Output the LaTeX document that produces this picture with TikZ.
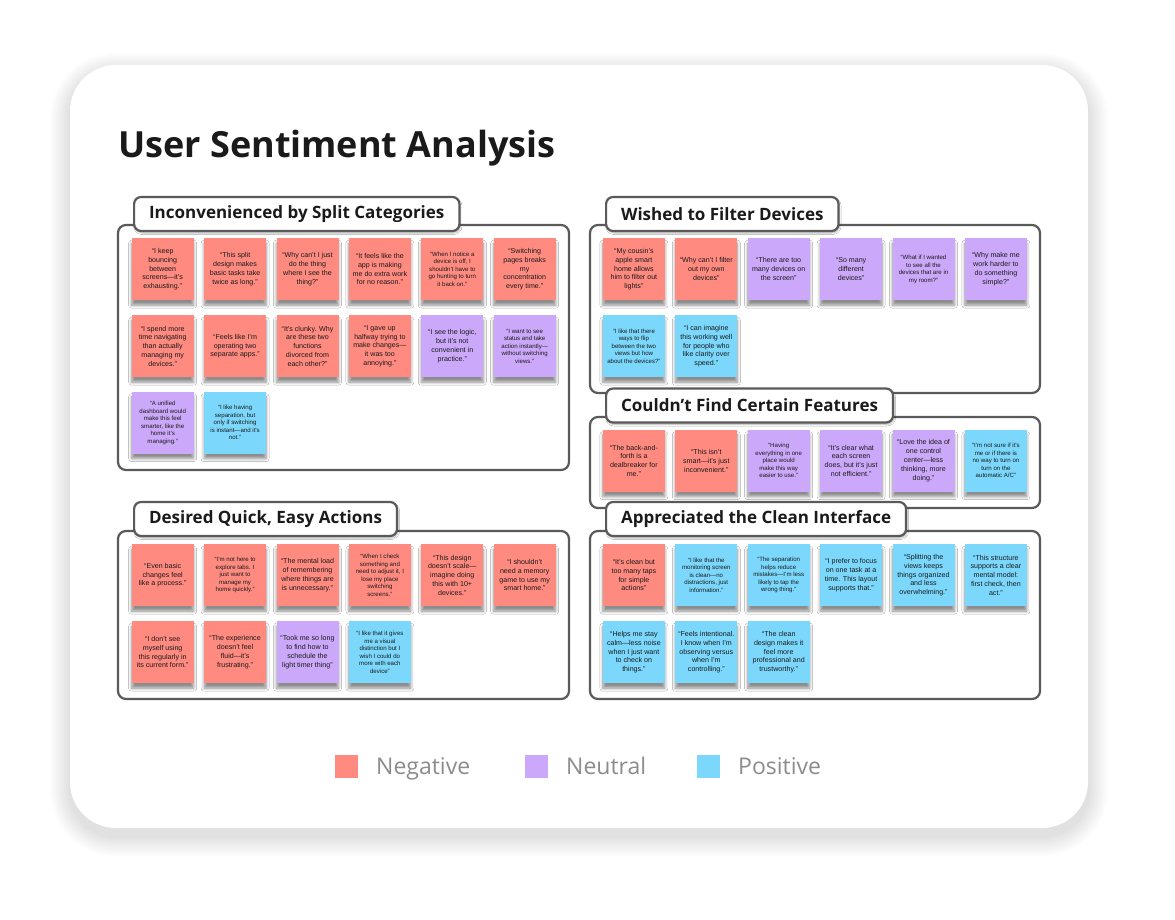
\documentclass[tikz,border=0pt]{standalone}
\usepackage{fontspec}
\setmainfont{Liberation Sans}
\newfontfamily\titlefont{Open Sans}
\newfontfamily\legendfont{Open Sans}
\usetikzlibrary{shadows.blur}
\definecolor{negc}{HTML}{FF8A80}
\definecolor{neuc}{HTML}{CBA8F9}
\definecolor{posc}{HTML}{7BD8FC}
\definecolor{framec}{HTML}{5A5A5A}
\definecolor{inkc}{HTML}{1A1A1A}
\definecolor{legc}{HTML}{8C8C8C}
\tikzset{
  notebox/.style={anchor=north west, minimum width=62pt, minimum height=62pt, inner sep=1pt,
    align=center, text=inkc, font=\fontsize{7.1}{8.8}\selectfont,
    blur shadow={shadow xshift=0pt, shadow yshift=-5pt, shadow opacity=45, shadow blur radius=3pt, shadow blur steps=6}},
  smalltxt/.style={font=\fontsize{6.1}{7.5}\selectfont},
  negnote/.style={fill=negc}, neunote/.style={fill=neuc}, posnote/.style={fill=posc},
  groupbox/.style={draw=framec, line width=2.2pt, rounded corners=8pt, fill=white},
  tabbox/.style={anchor=west, draw=framec, line width=2.2pt, rounded corners=7pt, fill=white,
    minimum height=34pt, inner xsep=15pt, text=inkc,
    font=\titlefont\bfseries\fontsize{17}{20}\selectfont,
    blur shadow={shadow xshift=1pt, shadow yshift=-2pt, shadow opacity=30, shadow blur radius=1.5pt, shadow blur steps=4}},
  legsq/.style={anchor=north west, minimum size=23pt, inner sep=0pt},
  legtxt/.style={anchor=base west, text=legc, inner sep=0pt, font=\legendfont\fontsize{23}{26}\selectfont},
  cardshade/.style={fill=black, opacity=0.010},
}
\newcommand\sn[4]{\node[notebox,#3] (#1) at (#2) {#4};}
\begin{document}
\begin{tikzpicture}[x={(1pt,0)}, y={(0,-1pt)}]
\useasboundingbox (0,0) rectangle (1175,920);
\fill[white] (0,0) rectangle (1175,920);
% card shadow (soft, layered)
\foreach \i in {1,...,10}{
  \fill[cardshade, rounded corners={46pt+\i*2pt}] (70-\i*2,65-\i*2+8) rectangle (1088+\i*2,828+\i*2+8);
}
% card
\fill[white, rounded corners=46pt] (70,65) rectangle (1088,828);
% title
\node[anchor=base west, inner sep=0pt, text=inkc, font=\titlefont\bfseries\fontsize{36}{44}\selectfont] (title) at (118,158) {User Sentiment Analysis};

% group boxes
\draw[groupbox] (118,225) rectangle (569,470);
\draw[groupbox] (590,225) rectangle (1040,393);
\draw[groupbox] (590,417) rectangle (1040,508);
\draw[groupbox] (118,531) rectangle (569,699);
\draw[groupbox] (590,531) rectangle (1040,699);

% tabs
\node[tabbox] (t1) at (133,214) {Inconvenienced by Split Categories};
\node[tabbox] (t2) at (605,214) {Wished to Filter Devices};
\node[tabbox] (t3) at (605,405.5) {Couldn’t Find Certain Features};
\node[tabbox] (t4) at (133,519) {Desired Quick, Easy Actions};
\node[tabbox] (t5) at (605,519) {Appreciated the Clean Interface};

% group 1
\sn{a1}{131.5,238}{negnote}{“I keep\\bouncing\\between\\screens—it’s\\exhausting.”}
\sn{a2}{203.9,238}{negnote}{“This split\\design makes\\basic tasks take\\twice as long.”}
\sn{a3}{276.3,238}{negnote}{“Why can’t I just\\do the thing\\where I see the\\thing?”}
\sn{a4}{348.7,238}{negnote}{“It feels like the\\app is making\\me do extra work\\for no reason.”}
\sn{a5}{421.1,238}{negnote,smalltxt}{“When I notice a\\device is off, I\\shouldn’t have to\\go hunting to turn\\it back on.”}
\sn{a6}{493.5,238}{negnote}{“Switching\\pages breaks\\my\\concentration\\every time.”}
\sn{a7}{131.5,315}{negnote}{“I spend more\\time navigating\\than actually\\managing my\\devices.”}
\sn{a8}{203.9,315}{negnote}{“Feels like I’m\\operating two\\separate apps.”}
\sn{a9}{276.3,315}{negnote}{“It’s clunky. Why\\are these two\\functions\\divorced from\\each other?”}
\sn{a10}{348.7,315}{negnote}{“I gave up\\halfway trying to\\make changes—\\it was too\\annoying.”}
\sn{a11}{421.1,315}{neunote}{“I see the logic,\\but it’s not\\convenient in\\practice.”}
\sn{a12}{493.5,315}{neunote,smalltxt}{“I want to see\\status and take\\action instantly—\\without switching\\views.”}
\sn{a13}{131.5,391.5}{neunote,smalltxt}{“A unified\\dashboard would\\make this feel\\smarter, like the\\home it’s\\managing.”}
\sn{a14}{203.9,391.5}{posnote,smalltxt}{“I like having\\separation, but\\only if switching\\is instant—and it’s\\not.”}

% group 2
\sn{b1}{602.7,238}{negnote}{“My cousin’s\\apple smart\\home allows\\him to filter out\\lights”}
\sn{b2}{675.1,238}{negnote}{“Why can’t I filter\\out my own\\devices”}
\sn{b3}{747.5,238}{neunote}{“There are too\\many devices on\\the screen”}
\sn{b4}{819.9,238}{neunote}{“So many\\different\\devices”}
\sn{b5}{892.3,238}{neunote,smalltxt}{“What if I wanted\\to see all the\\devices that are in\\my room?”}
\sn{b6}{964.7,238}{neunote}{“Why make me\\work harder to\\do something\\simple?”}
\sn{b7}{602.7,315}{posnote,smalltxt}{“I like that there\\ways to flip\\between the two\\views but how\\about the devices?”}
\sn{b8}{675.1,315}{posnote}{“I can imagine\\this working well\\for people who\\like clarity over\\speed.”}

% group 3
\sn{c1}{602.7,429.5}{negnote}{“The back-and-\\forth is a\\dealbreaker for\\me.”}
\sn{c2}{675.1,429.5}{negnote}{“This isn’t\\smart—it’s just\\inconvenient.”}
\sn{c3}{747.5,429.5}{neunote,smalltxt}{“Having\\everything in one\\place would\\make this way\\easier to use.”}
\sn{c4}{819.9,429.5}{neunote}{“It’s clear what\\each screen\\does, but it’s just\\not efficient.”}
\sn{c5}{892.3,429.5}{neunote}{“Love the idea of\\one control\\center—less\\thinking, more\\doing.”}
\sn{c6}{964.7,429.5}{posnote,smalltxt}{“I’m not sure if it’s\\me or if there is\\no way to turn on\\turn on the\\automatic A/C”}

% group 4
\sn{d1}{131.5,544}{negnote}{“Even basic\\changes feel\\like a process.”}
\sn{d2}{203.9,544}{negnote,smalltxt}{“I’m not here to\\explore tabs. I\\just want to\\manage my\\home quickly.”}
\sn{d3}{276.3,544}{negnote}{“The mental load\\of remembering\\where things are\\is unnecessary.”}
\sn{d4}{348.7,544}{negnote,smalltxt}{“When I check\\something and\\need to adjust it, I\\lose my place\\switching\\screens.”}
\sn{d5}{421.1,544}{negnote}{“This design\\doesn’t scale—\\imagine doing\\this with 10+\\devices.”}
\sn{d6}{493.5,544}{negnote}{“I shouldn’t\\need a memory\\game to use my\\smart home.”}
\sn{d7}{131.5,621}{negnote}{“I don’t see\\myself using\\this regularly in\\its current form.”}
\sn{d8}{203.9,621}{negnote}{“The experience\\doesn’t feel\\fluid—it’s\\frustrating.”}
\sn{d9}{276.3,621}{neunote}{“Took me so long\\to find how to\\schedule the\\light timer thing”}
\sn{d10}{348.7,621}{posnote,smalltxt}{“I like that it gives\\me a visual\\distinction but I\\wish I could do\\more with each\\device”}

% group 5
\sn{e1}{602.7,544}{negnote}{“It’s clean but\\too many taps\\for simple\\actions”}
\sn{e2}{675.1,544}{posnote,smalltxt}{“I like that the\\monitoring screen\\is clean—no\\distractions, just\\information.”}
\sn{e3}{747.5,544}{posnote,smalltxt}{“The separation\\helps reduce\\mistakes—I’m less\\likely to tap the\\wrong thing.”}
\sn{e4}{819.9,544}{posnote}{“I prefer to focus\\on one task at a\\time. This layout\\supports that.”}
\sn{e5}{892.3,544}{posnote}{“Splitting the\\views keeps\\things organized\\and less\\overwhelming.”}
\sn{e6}{964.7,544}{posnote}{“This structure\\supports a clear\\mental model:\\first check, then\\act.”}
\sn{e7}{602.7,621}{posnote}{“Helps me stay\\calm—less noise\\when I just want\\to check on\\things.”}
\sn{e8}{675.1,621}{posnote}{“Feels intentional.\\I know when I’m\\observing versus\\when I’m\\controlling.”}
\sn{e9}{747.5,621}{posnote}{“The clean\\design makes it\\feel more\\professional and\\trustworthy.”}

% legend
\node[legsq, fill=negc] (lneg) at (335,755) {};
\node[legtxt] (lnegt) at (376,774.5) {Negative};
\node[legsq, fill=neuc] (lneu) at (525,755) {};
\node[legtxt] (lneut) at (566,774.5) {Neutral};
\node[legsq, fill=posc] (lpos) at (697,755) {};
\node[legtxt] (lpost) at (738,774.5) {Positive};
\end{tikzpicture}
\end{document}
